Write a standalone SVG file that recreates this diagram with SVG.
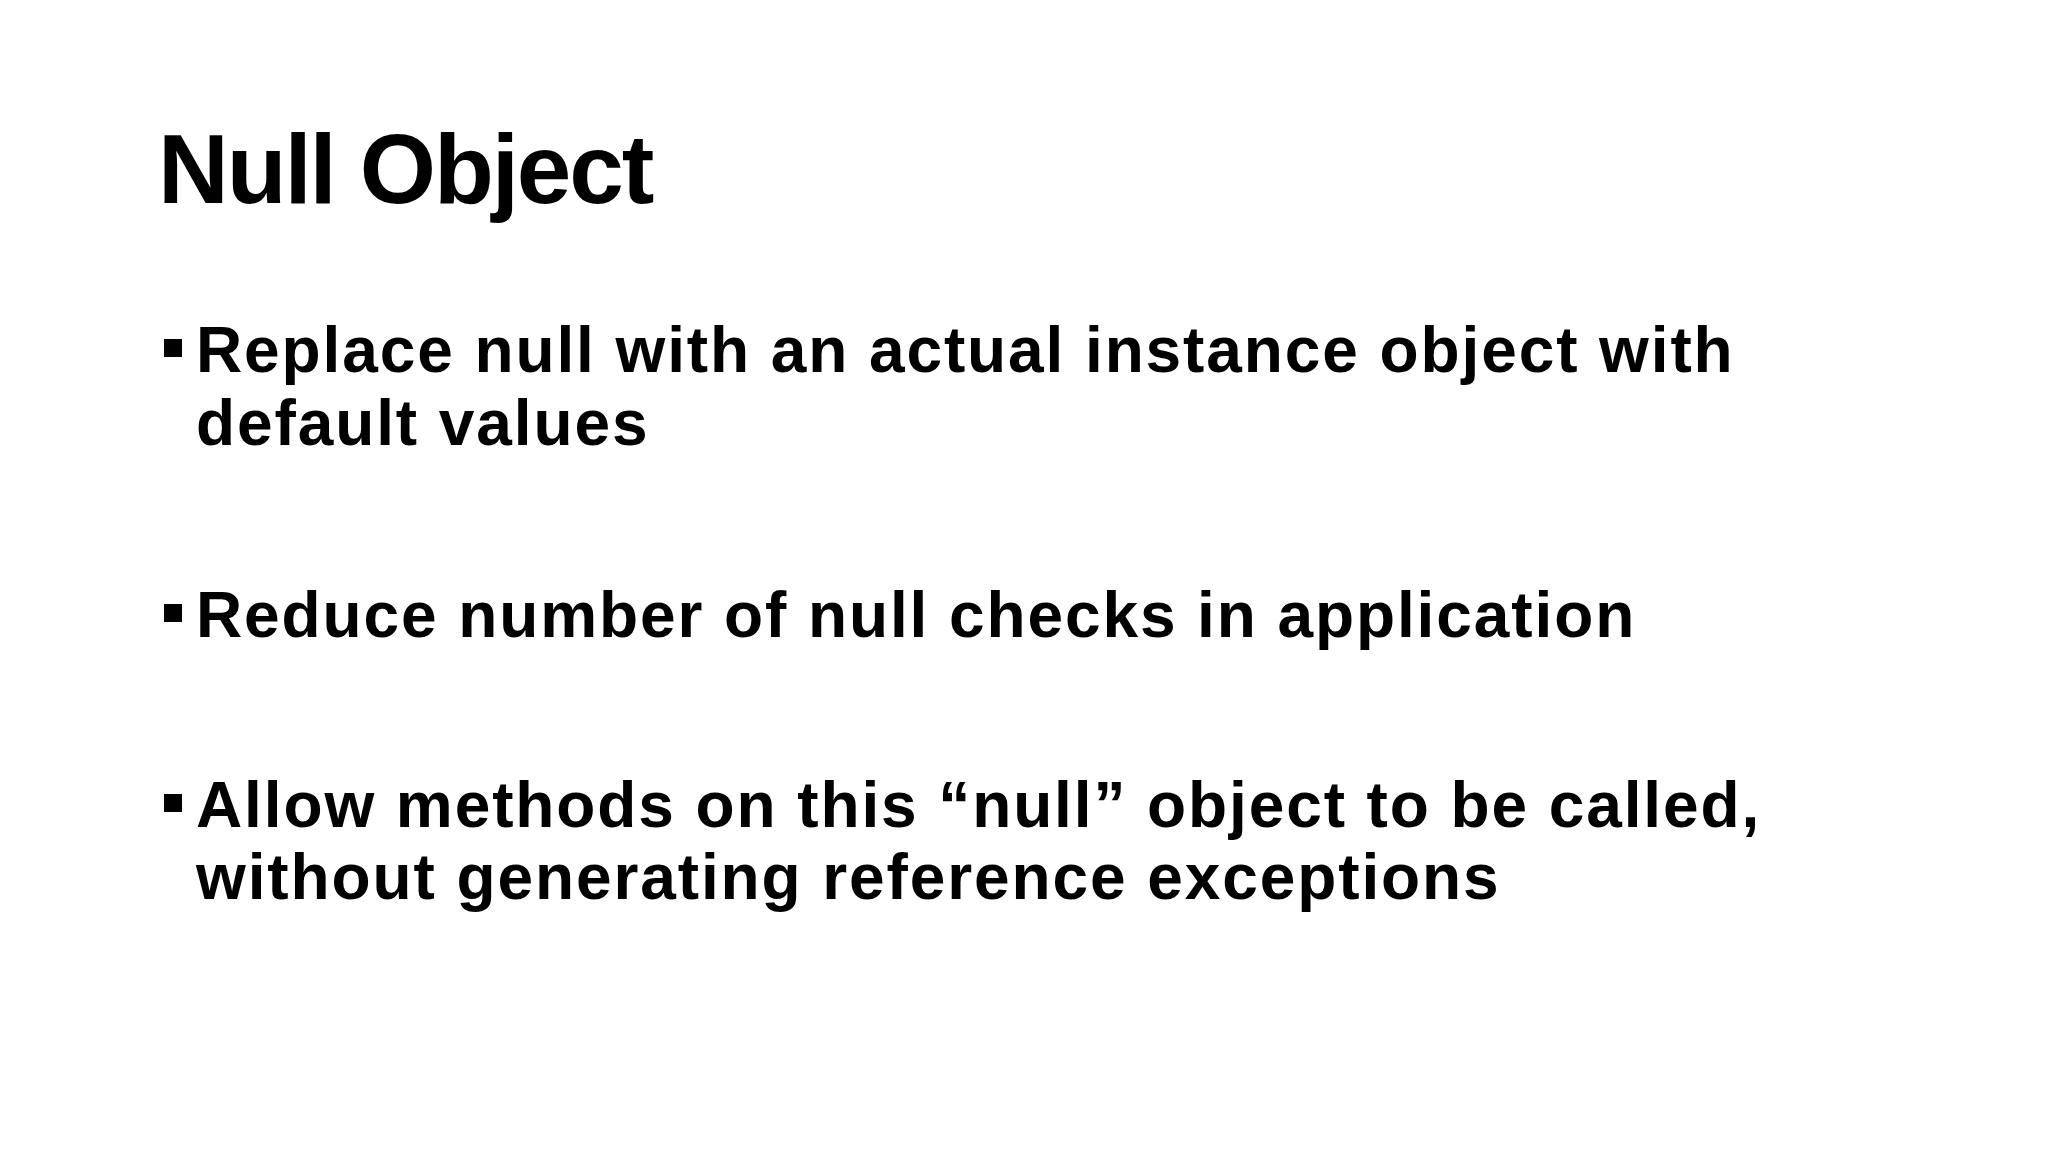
<svg xmlns="http://www.w3.org/2000/svg" width="2048" height="1152" viewBox="0 0 2048 1152">
<style>
text{font-family:"Liberation Sans",Arial,sans-serif;font-weight:bold;fill:#000}
.t{font-size:98px;letter-spacing:-2.1px}
.b{font-size:64px;letter-spacing:1.9px}
</style>
<rect width="2048" height="1152" fill="#fff"/>
<g id="title"><text class="t" x="158" y="203">Null Object</text></g>
<g id="bullet1"><rect x="164" y="339" width="18" height="18"/><text class="b" x="196" y="372">Replace null with an actual instance object with</text><text class="b" x="196" y="445">default values</text></g>
<g id="bullet2"><rect x="164" y="604" width="18" height="18"/><text class="b" x="196" y="637">Reduce number of null checks in application</text></g>
<g id="bullet3"><rect x="164" y="794" width="18" height="18"/><text class="b" x="196" y="827">Allow methods on this “null” object to be called,</text><text class="b" x="196" y="899">without generating reference exceptions</text></g>
</svg>
